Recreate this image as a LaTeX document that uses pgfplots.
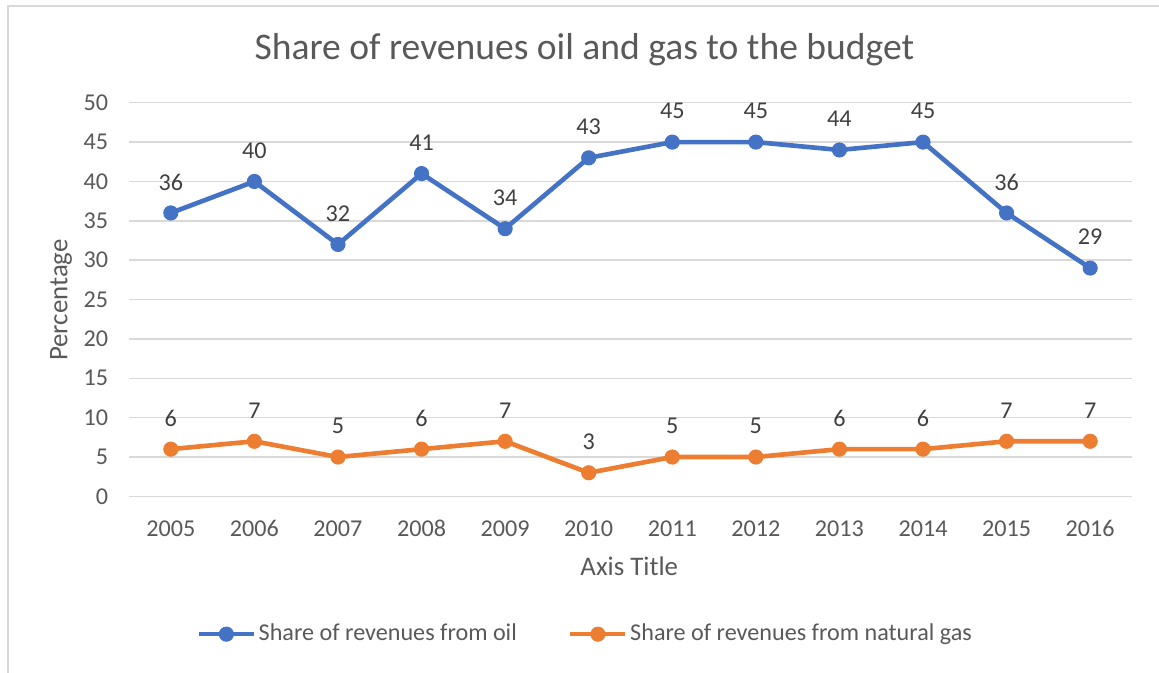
\documentclass[border=0pt]{standalone}
\usepackage{fontspec}
\setmainfont{Carlito}
\usepackage{pgfplots}
\pgfplotsset{compat=1.18}
\definecolor{oilblue}{HTML}{4472C4}
\definecolor{gasorange}{HTML}{ED7D31}
\definecolor{gridgray}{HTML}{D9D9D9}
\definecolor{txtgray}{HTML}{595959}
\definecolor{lblgray}{HTML}{404040}
\newcommand{\tA}{\fontsize{9.9}{12}\selectfont}
\newcommand{\tB}{\fontsize{11}{13}\selectfont}
\newcommand{\tT}{\fontsize{15.4}{18}\selectfont}

\begin{document}
\begin{tikzpicture}
% 1 px of the reference = 0.41pt
\useasboundingbox (0,0) rectangle (475.19pt,275.52pt);
\begin{scope}
  \clip (0,0) rectangle (475.19pt,275.52pt);
  \draw[gridgray,line width=0.6pt] (3.3pt,-10pt) rectangle (490pt,273.0pt);
\end{scope}
\begin{axis}[
  at={(52.9pt,72.0pt)}, anchor=south west,
  scale only axis, width=411.2pt, height=161.4pt,
  xmin=-0.5, xmax=11.5, ymin=0, ymax=50,
  xtick={0,...,11},
  xticklabels={2005,2006,2007,2008,2009,2010,2011,2012,2013,2014,2015,2016},
  ytick={0,5,...,50},
  ymajorgrids, grid style={draw=gridgray,line width=0.6pt},
  axis line style={draw=none},
  major tick length=0pt,
  tick label style={font=\tA,text=txtgray},
  xticklabel style={anchor=center,text height=0.65em,text depth=0pt,yshift=-13.2pt},
  yticklabel style={xshift=-5.0pt},
  /pgf/number format/assume math mode=true,
  clip=false,
  every axis plot/.append style={line width=1.9pt,mark=*,mark size=2.9pt},
  nodes near coords,
  nodes near coords style={font=\tA,text=lblgray,anchor=center,yshift=12.7pt},
  legend columns=2,
  legend style={at={(0.455,-0.350)},anchor=center,draw=none,fill=none,
    font=\tA,text=txtgray,
    /tikz/every even column/.append style={column sep=20pt},
    nodes={inner sep=1pt}},
  legend image code/.code={%
    \draw[mark repeat=2,mark phase=2,#1] plot coordinates {(0pt,0pt) (11.3pt,0pt) (22.6pt,0pt)};},
]
\draw[gridgray,line width=0.6pt] (axis cs:-0.5,0) -- (axis cs:11.5,0);
\addplot[oilblue,mark options={fill=oilblue,draw=oilblue,line width=0.4pt}] coordinates {
  (0,36) (1,40) (2,32) (3,41) (4,34) (5,43) (6,45) (7,45) (8,44) (9,45) (10,36) (11,29)};
\addlegendentry{Share of revenues from oil}
\addplot[gasorange,mark options={fill=gasorange,draw=gasorange,line width=0.4pt}] coordinates {
  (0,6) (1,7) (2,5) (3,6) (4,7) (5,3) (6,5) (7,5) (8,6) (9,6) (10,7) (11,7)};
\addlegendentry{Share of revenues from natural gas}
\end{axis}
\node[font=\tT,text=txtgray] at (239.6pt,255.3pt) {Share of revenues oil and gas to the budget};
\node[font=\tB,text=txtgray] at (258.0pt,43.5pt) {Axis Title};
\node[font=\tB,text=txtgray,rotate=90] at (25.0pt,152.5pt) {Percentage};
\end{tikzpicture}
\end{document}
